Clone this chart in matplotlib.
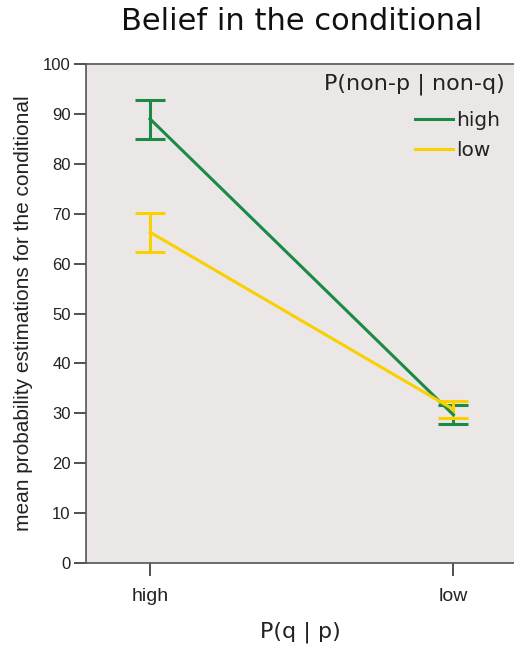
import matplotlib
matplotlib.use("Agg")
import matplotlib.pyplot as plt
from matplotlib.lines import Line2D

categories = ["high", "low"]
series_names = ["high", "low"]
means_high = [89.0, 29.7]
err_high_lo = [85.0, 27.9]
err_high_hi = [92.8, 31.7]
means_low = [66.3, 30.8]
err_low_lo = [62.3, 29.1]
err_low_hi = [70.1, 32.5]
yticks = [0, 10, 20, 30, 40, 50, 60, 70, 80, 90, 100]

green = "#1b8a47"
yellow = "#f9d000"

fig = plt.figure(figsize=(5.14, 6.45), dpi=100)
ax = fig.add_axes([86/514, 82/645, 1 - 86/514, (563-64)/645])
ax.set_facecolor("#ebe7e7")

x = list(range(len(categories)))
handles = []
for means, lo, hi, col, name in [
    (means_high, err_high_lo, err_high_hi, green, series_names[0]),
    (means_low, err_low_lo, err_low_hi, yellow, series_names[1]),
]:
    yerr = [[m - l for m, l in zip(means, lo)], [h - m for m, h in zip(means, hi)]]
    ax.errorbar(x, means, yerr=yerr, color=col, lw=2.2, capsize=11, capthick=2.2,
                elinewidth=2.2)
    handles.append(Line2D([], [], color=col, lw=2.2, label=name))

ax.set_xlim(-0.211, 1.2)
ax.set_ylim(0, 100)
ax.set_yticks(yticks)
ax.set_xticks(x)
ax.set_xticklabels(categories)
for s in ["top", "left", "bottom", "right"]:
    ax.spines[s].set_color("#555555")
    ax.spines[s].set_linewidth(1.2)
ax.spines["right"].set_visible(False)
ax.tick_params(axis="both", direction="out", length=9, width=1.2, color="#333333",
               labelsize=12, labelcolor="#222222")
ax.tick_params(axis="y", pad=2)
ax.tick_params(axis="x", pad=9, labelsize=14)
for lab in ax.get_yticklabels() + ax.get_xticklabels():
    lab.set_family("Liberation Sans")

ax.set_ylabel("mean probability estimations for the conditional", fontsize=15,
              family="Liberation Sans", color="#222222", labelpad=7)
ax.set_xlabel("P(q | p)", fontsize=16, family="DejaVu Sans", color="#222222", labelpad=12)

fig.text(505/514, 1 - 84/645, "P(non-p | non-q)", ha="right", va="center",
         fontsize=16, family="DejaVu Sans", color="#222222")
leg = fig.legend(handles=handles, loc="upper right", frameon=False,
                 bbox_to_anchor=(500/514, 1 - 111/645), bbox_transform=fig.transFigure,
                 fontsize=14.5, handlelength=1.9, handletextpad=0.15,
                 borderaxespad=0, borderpad=0, labelspacing=0.55)
for t in leg.get_texts():
    t.set_color("#222222")

fig.text(0.586, 0.966, "Belief in the conditional", ha="center", va="center",
         fontsize=22, family="DejaVu Sans", color="#111111")

fig.savefig("out.png", dpi=100, facecolor="white")
